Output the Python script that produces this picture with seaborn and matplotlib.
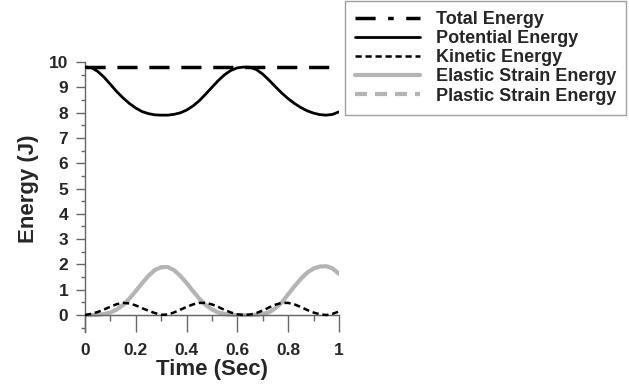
import numpy as np
import pandas as pd
import matplotlib
matplotlib.use("Agg")
import matplotlib.pyplot as plt
from matplotlib.lines import Line2D
from matplotlib.ticker import MultipleLocator
import seaborn as sns

# values
time = [0.0, 0.025, 0.05, 0.075, 0.1, 0.125, 0.15, 0.175, 0.2, 0.225,
        0.25, 0.275, 0.3, 0.325, 0.35, 0.375, 0.4, 0.425, 0.45, 0.475,
        0.5, 0.525, 0.55, 0.575, 0.6, 0.625, 0.65, 0.675, 0.7, 0.725,
        0.75, 0.775, 0.8, 0.825, 0.85, 0.875, 0.9, 0.925, 0.95, 0.975, 1.0]

total_energy = [9.8] * len(time)

potential_energy = [9.80, 9.78, 9.63, 9.40, 9.12, 8.83, 8.58, 8.36, 8.18, 8.04,
                    7.96, 7.91, 7.90, 7.90, 7.93, 7.99, 8.10, 8.26, 8.47, 8.73,
                    9.00, 9.27, 9.50, 9.67, 9.77, 9.80, 9.79, 9.70, 9.52, 9.28,
                    9.02, 8.77, 8.55, 8.36, 8.20, 8.07, 7.98, 7.92, 7.90, 7.93, 8.03]

kinetic_energy = [0.00, 0.05, 0.12, 0.22, 0.33, 0.43, 0.48, 0.46, 0.38, 0.27,
                  0.17, 0.08, 0.01, 0.02, 0.10, 0.21, 0.32, 0.42, 0.48, 0.48,
                  0.42, 0.32, 0.20, 0.10, 0.03, 0.00, 0.02, 0.08, 0.18, 0.30,
                  0.41, 0.48, 0.48, 0.42, 0.32, 0.20, 0.10, 0.03, 0.00, 0.05, 0.14]

elastic_energy = [0.00, 0.00, 0.01, 0.04, 0.10, 0.22, 0.40, 0.65, 0.95, 1.26,
                  1.55, 1.78, 1.89, 1.90, 1.78, 1.55, 1.27, 0.95, 0.65, 0.40,
                  0.22, 0.10, 0.04, 0.01, 0.00, 0.00, 0.00, 0.01, 0.04, 0.11,
                  0.27, 0.50, 0.82, 1.14, 1.43, 1.68, 1.84, 1.92, 1.93, 1.84, 1.63]

plastic_energy = [0.0] * len(time)

sns.set_theme(style="ticks")
plt.rcParams["font.family"] = ["Liberation Sans", "DejaVu Sans"]
plt.rcParams["font.weight"] = "bold"
plt.rcParams["axes.labelweight"] = "bold"

fig = plt.figure(figsize=(6.29, 3.88), dpi=100)
ax = fig.add_axes([0.1351, 0.1443, 0.4038, 0.6959])

gray = "#b4b4b4"
axis_gray = "#666666"

# plastic strain energy stays at zero, so it sits on the axis line
sns.lineplot(x=time, y=plastic_energy, ax=ax, color=axis_gray, linewidth=0.8,
             errorbar=None, zorder=1)
sns.lineplot(x=time, y=elastic_energy, ax=ax, color=gray, linewidth=3,
             errorbar=None, zorder=2)
sns.lineplot(x=time, y=kinetic_energy, ax=ax, color="black", linewidth=1.8,
             linestyle=(0, (2.5, 1.5)), errorbar=None, zorder=3)
sns.lineplot(x=time, y=potential_energy, ax=ax, color="black", linewidth=2,
             errorbar=None, zorder=4)
sns.lineplot(x=time, y=total_energy, ax=ax, color="black", linewidth=2.5,
             linestyle=(0, (5.8, 3.4)), errorbar=None, zorder=5)

lines = ax.get_lines()
handles = [
    Line2D([], [], color="black", linewidth=2.5, linestyle=(0, (5.8, 3.6, 1.6, 3.6))),
    lines[3], lines[2], lines[1],
    Line2D([], [], color=gray, linewidth=3, linestyle=(0, (2.9, 1.9))),
]
labels = ["Total Energy", "Potential Energy", "Kinetic Energy",
          "Elastic Strain Energy", "Plastic Strain Energy"]

ax.set_xlim(0, 1)
ax.set_ylim(-0.67, 10)
ax.spines["top"].set_visible(False)
ax.spines["right"].set_visible(False)
ax.spines["bottom"].set_position(("data", 0))
for s in ["left", "bottom"]:
    ax.spines[s].set_color(axis_gray)
    ax.spines[s].set_linewidth(1)

ax.xaxis.set_minor_locator(MultipleLocator(0.1))
ax.yaxis.set_minor_locator(MultipleLocator(0.5))
ax.set_yticks(range(0, 11))
ax.set_xticks([0, 0.2, 0.4, 0.6, 0.8, 1.0])
ax.set_xticklabels(["0", "0.2", "0.4", "0.6", "0.8", "1"])

ax.tick_params(axis="x", which="major", length=12, width=1, color=axis_gray,
               pad=8, labelsize=12.5)
ax.tick_params(axis="x", which="minor", length=4.5, width=1, color=axis_gray)
ax.tick_params(axis="y", which="major", length=6.5, width=1, color=axis_gray,
               pad=5.5, labelsize=12.5)
ax.tick_params(axis="y", which="minor", length=3, width=1, color=axis_gray)
for lab in ax.get_xticklabels() + ax.get_yticklabels():
    lab.set_fontweight("bold")

ax.set_xlabel("Time (Sec)", fontsize=16, fontweight="bold", labelpad=1)
ax.set_ylabel("Energy (J)", fontsize=16, fontweight="bold")
ax.yaxis.set_label_coords(-0.18, 0.531)

leg = fig.legend(handles, labels, loc="upper left",
                 bbox_to_anchor=(345 / 629, 1 - 1 / 388),
                 borderaxespad=0, frameon=True, fancybox=False,
                 prop={"family": "Liberation Sans", "weight": "bold", "size": 13},
                 handlelength=3.6, handletextpad=0.9, labelspacing=0.12,
                 borderpad=0.55)
leg.get_frame().set_edgecolor("#888888")
leg.get_frame().set_linewidth(1)

fig.savefig("out.png", dpi=100)
